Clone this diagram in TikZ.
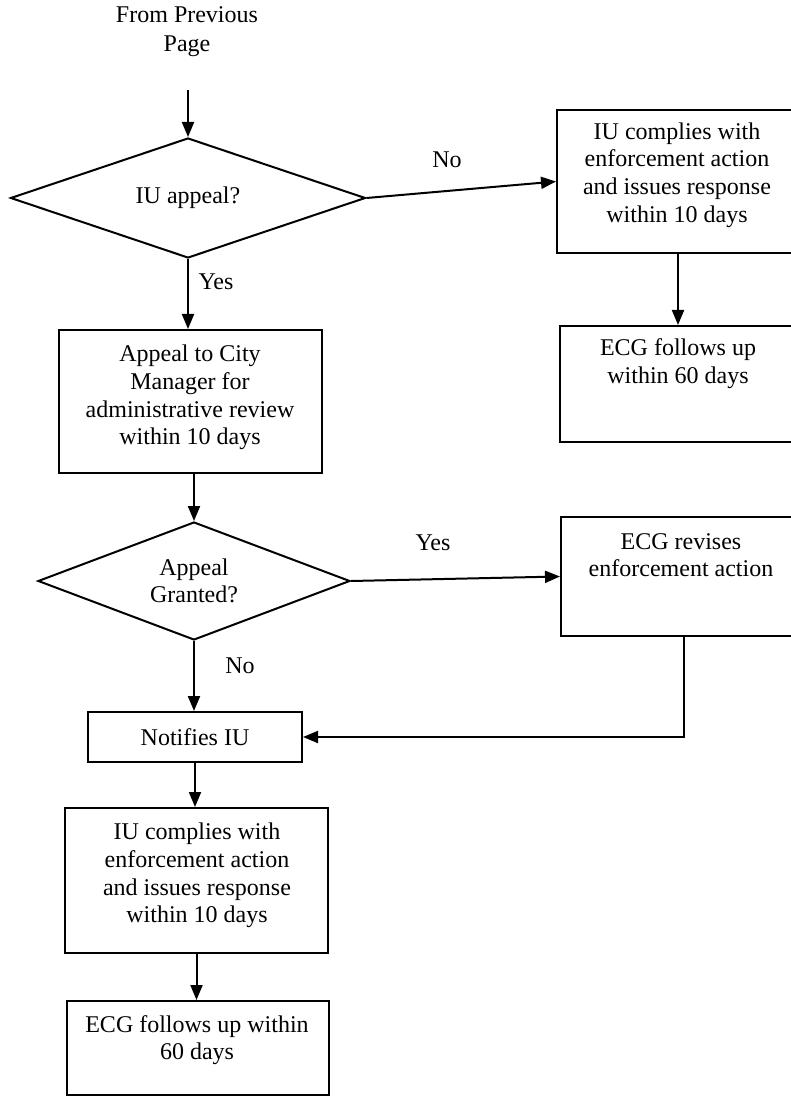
\documentclass[tikz,border=0pt]{standalone}
\usepackage{fontspec}
\setmainfont{Liberation Serif}
\usepackage{tikz}
\usetikzlibrary{arrows.meta}
\usetikzlibrary{shapes.geometric}

\begin{document}
\begin{tikzpicture}[x=0.5pt, y=-0.5pt,
    box/.style={draw, line width=1pt, inner sep=0pt},
    txt/.style={align=center, inner sep=0pt, font=\fontsize{12}{13.8}\selectfont},
    decision/.style={draw, diamond, aspect=3, line width=1pt, txt},
    arr/.style={-{Triangle[length=7.5pt, width=6pt]}, line width=1pt}]
    \useasboundingbox (0,0) rectangle (791,1096);

    \node[txt, font=\fontsize{12}{14.5}\selectfont] (from) at (187,32) {From Previous\\Page};
    \coordinate (start) at (188,90);

    % DECISIONS
    \node[decision, minimum width=177.5pt, minimum height=60pt] (appeal) at (188,198) {IU appeal?};
    \node[decision, minimum width=156pt, minimum height=59pt] (granted) at (194,581) {Appeal\\Granted?};

    % BOXES (name / x / y / width / height), right column runs off the page
    \foreach \n/\x/\y/\w/\h in {
        comply1/683.5/181.5/126.5/71.5,
        follow1/685/384/125/58,
        review/190.5/401.5/131.5/71.5,
        revise/685.5/576.5/124.5/59.5,
        comply2/196.5/880.5/131.5/72.5,
        follow2/198/1048/131/47}
        \node[box, minimum width=\w pt, minimum height=\h pt] (\n) at (\x,\y) {};
    \node[box, txt, minimum width=107pt, minimum height=25pt] (notify) at (195,737) {Notifies IU};

    % TEXT OF THE BOXES (sits near the top)
    \foreach \n/\x/\y/\m in {
        comply1/677/175/{IU complies with\\enforcement action\\and issues response\\within 10 days},
        follow1/678/363.5/{ECG follows up\\within 60 days},
        review/190/397.5/{Appeal to City\\Manager for\\administrative review\\within 10 days},
        revise/681/555/{ECG revises\\enforcement action},
        comply2/197/875.5/{IU complies with\\enforcement action\\and issues response\\within 10 days},
        follow2/197/1040/{ECG follows up within\\60 days}}
        \node[txt] (\n-t) at (\x,\y) {\m};

    % BRANCH LABELS
    \node[txt] (no1) at (447,160) {No};
    \node[txt] (yes1) at (216,282) {Yes};
    \node[txt] (yes2) at (433,543) {Yes};
    \node[txt] (no2) at (240,666) {No};

    % CONNECTORS
    \draw[arr] (start) -- (appeal.north);
    \draw[arr] (appeal.east) -- (comply1.west);
    \draw[arr] (appeal.south) -- (appeal.south |- review.north);
    \draw[arr] (follow1-t |- comply1.south) -- (follow1-t |- follow1.north);
    \draw[arr] (granted.north |- review.south) -- (granted.north);
    \draw[arr] (granted.east) -- (revise.west);
    \draw[arr] (granted.south) -- (granted.south |- notify.north);
    \draw[arr] ([xshift=-1pt]revise.south) |- (notify.east);
    \draw[arr] (notify.south) -- (notify.south |- comply2.north);
    \draw[arr] (comply2.south) -- (comply2.south |- follow2.north);
\end{tikzpicture}
\end{document}
